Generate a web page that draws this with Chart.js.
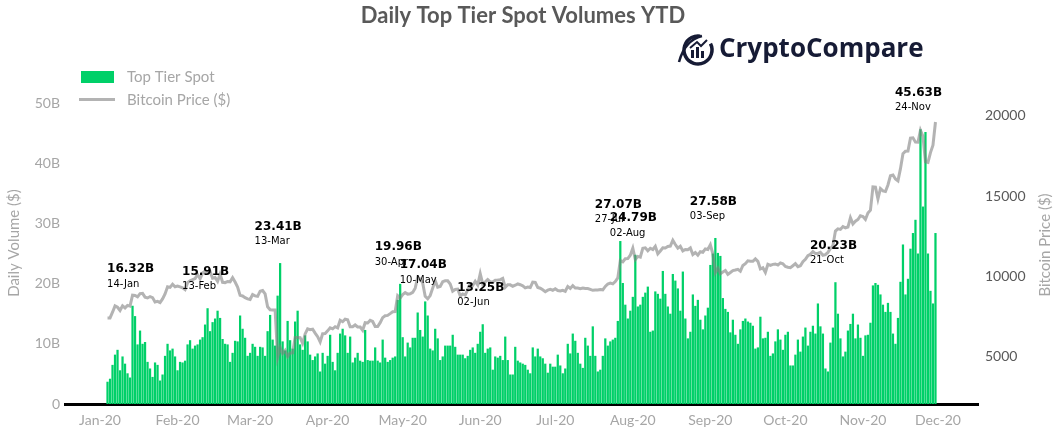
<!DOCTYPE html>
<html><head><meta charset="utf-8">
<script src="https://cdn.jsdelivr.net/npm/chart.js@4.4.0/dist/chart.umd.min.js"></script>
<style>html,body{margin:0;padding:0;background:#fff;overflow:hidden}#wrap{width:1061px;height:444px;position:relative}</style>
</head><body><div id="wrap"><canvas id="c" width="1061" height="444"></canvas></div>
<script>
// ---- data ----
const startDate = '2020-01-04';
const monthLabels = ['Jan-20','Feb-20','Mar-20','Apr-20','May-20','Jun-20','Jul-20','Aug-20','Sep-20','Oct-20','Nov-20','Dec-20'];
const monthStarts = ['2020-01-01','2020-02-01','2020-03-01','2020-04-01','2020-05-01','2020-06-01','2020-07-01','2020-08-01','2020-09-01','2020-10-01','2020-11-01','2020-12-01'];
const leftTicks = [0,10,20,30,40,50];
const rightTicks = [5000,10000,15000,20000];

// Daily Top Tier Spot volume, billions USD (Jan 4 .. Nov 30)
const volumes = [
3.7,4.2,6.5,8.2,9.0,5.6,7.9,6.7,5.1,4.4,
16.32,14.6,9.9,12.2,10.0,10.3,7.0,5.9,4.5,6.9,
6.5,3.9,4.9,8.0,10.0,8.9,9.2,7.9,5.6,7.0,
6.9,7.2,9.9,10.6,9.2,9.7,9.9,10.7,11.1,13.2,
15.91,12.1,13.6,14.2,15.5,14.3,10.8,10.0,9.9,7.0,
8.5,10.5,10.4,14.7,12.5,11.0,8.0,8.5,10.0,9.5,
8.0,9.5,9.4,8.0,12.1,14.8,10.7,9.7,18.0,23.41,
10.4,8.9,13.8,10.6,9.2,13.7,15.5,9.9,9.0,11.4,
10.4,8.2,7.3,7.9,8.4,5.4,8.5,6.7,8.0,11.5,
7.0,5.6,8.5,11.7,12.5,11.4,8.5,11.2,6.9,7.7,
8.5,7.2,7.0,12.3,7.3,7.2,7.2,9.4,7.2,6.9,
10.7,7.7,7.0,7.3,7.7,7.9,17.3,19.96,11.1,7.9,
10.2,9.4,11.0,11.0,15.2,12.3,11.2,17.04,14.7,9.2,
8.9,12.5,10.9,7.3,7.9,9.7,9.7,9.7,11.5,9.5,
8.2,8.2,8.2,7.6,8.0,9.0,9.4,8.5,10.0,12.0,
13.25,8.5,9.2,9.4,5.7,7.9,7.7,8.0,7.3,11.2,
7.3,4.9,4.9,9.5,7.2,6.9,6.7,6.5,5.7,5.1,
9.4,7.9,9.2,7.9,7.6,6.7,5.2,6.7,6.2,6.2,
8.2,6.4,5.1,5.9,10.0,8.4,11.7,10.5,8.5,6.7,
6.0,11.0,9.7,8.0,12.9,8.0,5.4,5.7,8.0,10.9,
9.7,10.4,10.7,11.0,13.8,27.07,20.1,16.5,14.2,15.5,
17.8,24.79,16.2,16.5,17.8,18.5,19.5,12.0,12.2,18.7,
18.3,17.5,22.1,18.3,16.2,15.0,21.6,20.5,19.2,15.5,
22.0,14.2,10.9,12.0,18.2,16.3,17.3,14.0,12.4,14.7,
16.0,23.1,25.0,27.58,25.1,24.6,17.6,15.8,15.3,11.9,
14.0,11.5,10.0,12.4,13.8,14.2,13.7,13.5,13.0,9.2,
9.4,14.5,10.9,11.0,12.0,8.0,8.4,10.4,12.4,10.7,
9.0,11.5,12.0,6.4,6.4,8.2,10.7,8.7,11.2,12.7,
9.7,12.0,13.0,11.7,16.7,12.9,11.7,5.9,5.4,10.2,
12.7,20.23,15.0,10.9,7.9,8.7,12.2,13.3,15.0,10.9,
13.2,11.0,8.0,11.4,11.5,13.5,19.7,20.1,19.8,18.2,
16.5,15.3,16.8,15.3,11.7,10.0,14.3,20.3,26.5,18.2,
20.8,25.8,28.4,30.6,25.0,45.63,32.8,45.2,25.0,18.8,
16.7,28.4
];

// Bitcoin price, USD (Jan 4 .. Nov 30)
const prices = [
7410,7411,7769,8163,8079,7879,8166,8037,8192,8145,8828,8807,8723,8929,8942,8706,8658,8745,8681,8407,8445,8368,8597,8910,9358,9317,9508,9351,
9392,9345,9293,9180,9613,9730,9795,9865,10116,9856,10208,10326,10214,10312,9889,9934,9690,10141,9633,9608,9686,9663,9925,9650,9342,8820,8784,8672,8599,
8562,8869,8787,8755,9078,9122,8909,8108,7923,7909,7911,4970,5563,5200,5392,5014,5225,5238,6191,6198,6185,5830,6416,6734,6681,6716,6469,6242,5922,6429,6438,
6606,6793,6733,6867,6791,7271,7176,7334,7302,6865,6859,6971,6845,6842,6642,7116,7096,7257,7189,6882,6880,7117,7429,7550,7569,7679,7795,7807,8801,8658,
8864,8988,8897,8912,9003,9268,9951,9842,9593,8756,8601,8804,9269,9733,9328,9377,9670,9726,9729,9522,9081,9182,9210,8791,8906,8835,9181,9525,9439,9700,9461,
10167,9529,9656,9800,9665,9653,9758,9771,9795,9870,9321,9480,9475,9386,9450,9538,9480,9411,9288,9332,9303,9648,9629,9313,9264,9162,9045,9143,9190,9137,
9228,9123,9087,9132,9073,9375,9252,9428,9277,9278,9240,9276,9243,9243,9192,9132,9151,9159,9185,9164,9374,9525,9581,9536,9677,9905,10990,10912,11100,11111,11323,
11759,11053,11246,11205,11747,11779,11601,11754,11675,11878,11410,11584,11784,11768,11865,11892,12254,11991,11758,11878,11592,11681,11664,11774,11366,11488,11324,11542,11506,11711,11680,
11970,11414,10245,10511,10169,10280,10370,10131,10243,10363,10400,10442,10323,10680,10796,10974,10948,10944,11094,10938,10462,10539,10246,10760,10692,10750,10775,10710,10845,10785,
10620,10570,10542,10666,10793,10604,10668,10915,11064,11296,11384,11555,11426,11430,11505,11319,11360,11495,11742,11916,12823,12965,12931,13108,13031,13076,13654,13272,13438,13546,13781,
13737,13550,13950,14133,15579,15565,14833,15479,15332,15290,15701,16276,16317,16068,15955,16716,17645,17804,17817,18621,18642,18370,18364,19107,18732,17150,17108,17717,18177,19625
];

const annotDates  = ['2020-01-14','2020-02-13','2020-03-13','2020-04-30','2020-05-10','2020-06-02','2020-07-27','2020-08-02','2020-09-03','2020-10-21','2020-11-24'];
const annotLabels = ['14-Jan','13-Feb','13-Mar','30-Apr','10-May','02-Jun','27-Jul','02-Aug','03-Sep','21-Oct','24-Nov'];
const annotValues = [16.32,15.91,23.41,19.96,17.04,13.25,27.07,24.79,27.58,20.23,45.63];

// ---- helpers ----
function dayIndex(s){const p=s.split('-').map(Number);return (Date.UTC(p[0],p[1]-1,p[2])-Date.UTC(2020,0,1))/86400000;}
const start = dayIndex(startDate);
const days = volumes.map((_,i)=>start+i);
const monthTickVals = monthStarts.map(dayIndex);

const GREEN = '#00d068';
const LINE = 'rgba(128,128,128,0.6)';
const LIGHT = '#a6a6a6';

const decor = {
  id:'decor',
  afterDraw(chart){
    const ctx = chart.ctx, xs = chart.scales.x, ys = chart.scales.y;
    ctx.save();
    // title
    ctx.fillStyle = '#595959';
    ctx.font = 'bold 22px Lato';
    ctx.textAlign = 'center'; ctx.textBaseline = 'middle';
    ctx.fillText('Daily Top Tier Spot Volumes YTD', 523, 16);
    // logo
    ctx.strokeStyle = '#161b35'; ctx.fillStyle = '#161b35';
    ctx.lineWidth = 3.5;
    ctx.beginPath(); ctx.arc(698, 50, 14, -0.15*Math.PI, 1.55*Math.PI); ctx.stroke();
    ctx.lineWidth = 2.5;
    ctx.beginPath(); ctx.moveTo(679, 62); ctx.quadraticCurveTo(685, 40, 702, 36); ctx.stroke();
    ctx.fillRect(691, 50, 3, 8); ctx.fillRect(696, 47, 3, 11); ctx.fillRect(701, 51, 3, 7);
    ctx.lineWidth = 2;
    ctx.beginPath(); ctx.moveTo(690, 48); ctx.lineTo(697, 42); ctx.lineTo(701, 46); ctx.lineTo(707, 40); ctx.stroke();
    ctx.font = 'bold 26px "Open Sans"';
    ctx.textAlign = 'left'; ctx.textBaseline = 'middle';
    ctx.fillText('CryptoCompare', 719, 50);
    // legend
    ctx.fillStyle = GREEN; ctx.fillRect(81, 71, 33, 12);
    ctx.strokeStyle = LINE; ctx.lineWidth = 3;
    ctx.beginPath(); ctx.moveTo(79, 99.5); ctx.lineTo(115, 99.5); ctx.stroke();
    ctx.fillStyle = LIGHT; ctx.font = '15px Lato';
    ctx.fillText('Top Tier Spot', 127, 77);
    ctx.fillText('Bitcoin Price ($)', 127, 100);
    // axis titles
    ctx.textAlign = 'center';
    ctx.save(); ctx.translate(14, 243); ctx.rotate(-Math.PI/2); ctx.fillText('Daily Volume ($)', 0, 0); ctx.restore();
    ctx.save(); ctx.translate(1045, 245); ctx.rotate(-Math.PI/2); ctx.fillText('Bitcoin Price ($)', 0, 0); ctx.restore();
    // annotations
    ctx.textAlign = 'left'; ctx.fillStyle = '#000';
    annotDates.forEach((d,i)=>{
      const px = xs.getPixelForValue(dayIndex(d));
      const py = ys.getPixelForValue(annotValues[i]);
      ctx.font = 'bold 12px "DejaVu Sans"';
      ctx.fillText(annotValues[i].toFixed(2)+'B', px-25.5, py-36.5);
      ctx.font = '10px "DejaVu Sans"';
      ctx.fillText(annotLabels[i], px-25.5, py-21.5);
    });
    ctx.restore();
  }
};

new Chart(document.getElementById('c').getContext('2d'), {
  type:'bar',
  data:{datasets:[
    {type:'line', label:'Bitcoin Price ($)', data: days.map((d,i)=>({x:d,y:prices[i]})), yAxisID:'y1',
     borderColor:LINE, borderWidth:3, pointRadius:0, tension:0, order:0},
    {type:'bar', label:'Top Tier Spot', data: days.map((d,i)=>({x:d,y:volumes[i]})), yAxisID:'y',
     backgroundColor:GREEN, barPercentage:0.9, categoryPercentage:1.0, order:1}
  ]},
  options:{
    responsive:false, animation:false,
    layout:{padding:{top:103, bottom:10, left:0, right:0}},
    plugins:{legend:{display:false}, tooltip:{enabled:false}, title:{display:false}},
    scales:{
      x:{type:'linear', min:-14, max:351, offset:false,
         grid:{display:false, drawTicks:false},
         border:{display:true, color:'#000', width:3},
         afterBuildTicks:s=>{s.ticks = monthTickVals.map(v=>({value:v}));},
         ticks:{autoSkip:false, maxRotation:0, padding:8, color:LIGHT, font:{family:'Lato', size:14},
                callback:v=>monthLabels[monthTickVals.indexOf(v)]},
         afterFit:s=>{s.height=30;}},
      y:{position:'left', min:0, max:50,
         grid:{display:false, drawTicks:false}, border:{display:false},
         afterBuildTicks:s=>{s.ticks = leftTicks.map(v=>({value:v}));},
         ticks:{padding:5, color:LIGHT, font:{family:'Lato', size:14}, callback:v=>v===0?'0':v+'B'},
         afterFit:s=>{s.width=65;}},
      y1:{position:'right', min:2047, max:20809,
         grid:{display:false, drawTicks:false}, border:{display:false},
         afterBuildTicks:s=>{s.ticks = rightTicks.map(v=>({value:v}));},
         ticks:{padding:7, color:'#595959', font:{family:'Lato', size:14}, callback:v=>String(v)},
         afterFit:s=>{s.width=83;}}
    }
  },
  plugins:[decor]
});
</script>
</body></html>
